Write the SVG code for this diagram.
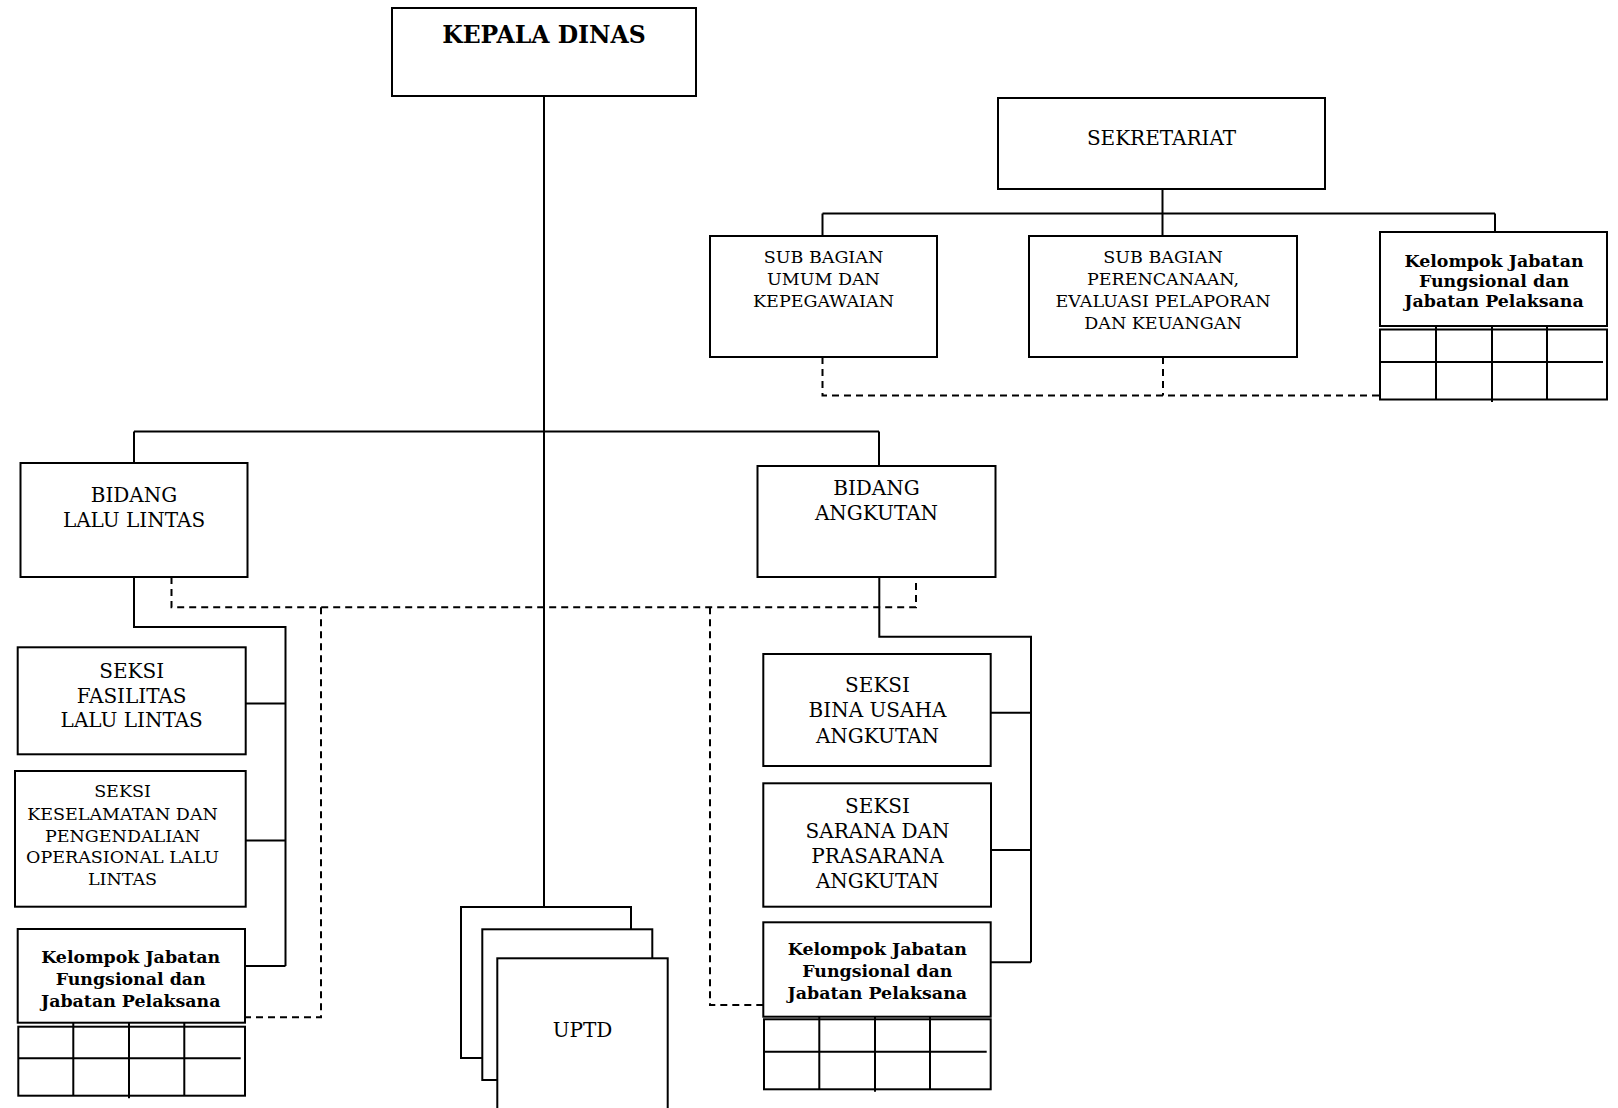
<svg xmlns="http://www.w3.org/2000/svg" width="1618" height="1108" viewBox="0 0 1618 1108">
<style>
  .box { fill: #ffffff; stroke: #000000; stroke-width: 2; }
  .ln { fill: none; stroke: #000000; stroke-width: 2; }
  .dash { fill: none; stroke: #000000; stroke-width: 2; stroke-dasharray: 7 5; }
  .t { font-family: "DejaVu Serif", "Liberation Serif", serif; fill: #000000; text-anchor: middle; }
  .s17 { font-size: 17.5px; }
  .s20 { font-size: 20px; }
  .b { font-family: "DejaVu Serif", "Liberation Serif", serif; font-weight: bold; fill: #000000; text-anchor: middle; font-size: 17.4px; }
  .kd { font-size: 23.5px; }
</style>
<rect x="0" y="0" width="1618" height="1108" fill="#ffffff"/>

<g id="connectors">
  <path class="ln" d="M544 96 V907"/>
  <path class="ln" d="M134 431.5 H879"/>
  <path class="ln" d="M134 431.5 V463"/>
  <path class="ln" d="M879 431.5 V466"/>
  <path class="ln" d="M1162.5 189 V236"/>
  <path class="ln" d="M822.5 213.5 H1495"/>
  <path class="ln" d="M822.5 213.5 V236"/>
  <path class="ln" d="M1495 213.5 V232"/>
  <path class="dash" d="M822.5 357 V395.5 H1380"/>
  <path class="dash" d="M1163 357 V395.5"/>
  <path class="ln" d="M134 577 V627 H285.5 V966"/>
  <path class="ln" d="M245.5 703.5 H285.5"/>
  <path class="ln" d="M245.5 840.5 H285.5"/>
  <path class="ln" d="M245 966 H285.5"/>
  <path class="ln" d="M879.3 577 V636.7 H1031 V962.3"/>
  <path class="ln" d="M990.7 712.7 H1031"/>
  <path class="ln" d="M991 850 H1031"/>
  <path class="ln" d="M990.7 962.3 H1031"/>
  <path class="dash" d="M171.5 577 V607.3 H916 V577"/>
  <path class="dash" d="M321 607.3 V1017.3 H245"/>
  <path class="dash" d="M710 607.3 V1005 H763.3"/>
</g>

<g id="kepala-dinas">
  <rect class="box" x="392" y="8" width="304" height="88"/>
  <text class="b kd" x="544" y="43">KEPALA DINAS</text>
</g>

<g id="sekretariat">
  <rect class="box" x="998" y="98" width="327" height="91"/>
  <text class="t s20" x="1161.5" y="145">SEKRETARIAT</text>
</g>

<g id="subbag-umum">
  <rect class="box" x="710" y="236" width="227" height="121"/>
  <text class="t s17" x="823.5" y="263">SUB BAGIAN</text>
  <text class="t s17" x="823.5" y="285">UMUM DAN</text>
  <text class="t s17" x="823.5" y="307">KEPEGAWAIAN</text>
</g>

<g id="subbag-perencanaan">
  <rect class="box" x="1029" y="236" width="268" height="121"/>
  <text class="t s17" x="1163" y="263">SUB BAGIAN</text>
  <text class="t s17" x="1163" y="285">PERENCANAAN,</text>
  <text class="t s17" x="1163" y="307">EVALUASI PELAPORAN</text>
  <text class="t s17" x="1163" y="328.5">DAN KEUANGAN</text>
</g>

<g id="kelompok-sekretariat">
  <rect class="box" x="1380" y="232" width="227" height="94"/>
  <text class="b" x="1494" y="266.5">Kelompok Jabatan</text>
  <text class="b" x="1494" y="286.5">Fungsional dan</text>
  <text class="b" x="1494" y="307">Jabatan Pelaksana</text>
  <rect class="box" x="1380" y="329.5" width="227" height="70"/>
  <path class="ln" d="M1436 326 V399.5 M1492 326 V402 M1547 326 V399.5 M1380 362 H1603"/>
</g>

<g id="bidang-lalu-lintas">
  <rect class="box" x="20.5" y="463" width="227" height="114"/>
  <text class="t s20" x="134" y="501.5">BIDANG</text>
  <text class="t s20" x="134" y="526.5">LALU LINTAS</text>
</g>

<g id="bidang-angkutan">
  <rect class="box" x="757.5" y="466" width="238" height="111"/>
  <text class="t s20" x="876.5" y="495">BIDANG</text>
  <text class="t s20" x="876.5" y="520">ANGKUTAN</text>
</g>

<g id="seksi-fasilitas">
  <rect class="box" x="17.7" y="647.3" width="228" height="107"/>
  <text class="t s20" x="131.7" y="678.3">SEKSI</text>
  <text class="t s20" x="131.7" y="703.3">FASILITAS</text>
  <text class="t s20" x="131.7" y="727.3">LALU LINTAS</text>
</g>

<g id="seksi-keselamatan">
  <rect class="box" x="15" y="771" width="230.7" height="135.7"/>
  <text class="t s17" x="122.5" y="796.7">SEKSI</text>
  <text class="t s17" x="122.5" y="820">KESELAMATAN DAN</text>
  <text class="t s17" x="122.5" y="841.7">PENGENDALIAN</text>
  <text class="t s17" x="122.5" y="863.3">OPERASIONAL LALU</text>
  <text class="t s17" x="122.5" y="885">LINTAS</text>
</g>

<g id="kelompok-lalu-lintas">
  <rect class="box" x="17.7" y="929" width="227.3" height="93.7"/>
  <text class="b" x="130.7" y="963.3">Kelompok Jabatan</text>
  <text class="b" x="130.7" y="984.5">Fungsional dan</text>
  <text class="b" x="130.7" y="1006.7">Jabatan Pelaksana</text>
  <rect class="box" x="18.3" y="1026.7" width="226.7" height="69"/>
  <path class="ln" d="M73.3 1022.7 V1095.7 M129 1022.7 V1098.3 M184.3 1022.7 V1095.7 M18.3 1058.3 H240.7"/>
</g>

<g id="seksi-bina-usaha">
  <rect class="box" x="763.3" y="654" width="227.4" height="112"/>
  <text class="t s20" x="877.5" y="691.7">SEKSI</text>
  <text class="t s20" x="877.5" y="717.3">BINA USAHA</text>
  <text class="t s20" x="877.5" y="742.7">ANGKUTAN</text>
</g>

<g id="seksi-sarana">
  <rect class="box" x="763.3" y="783.3" width="227.7" height="123.4"/>
  <text class="t s20" x="877.5" y="813.3">SEKSI</text>
  <text class="t s20" x="877.5" y="838.3">SARANA DAN</text>
  <text class="t s20" x="877.5" y="862.7">PRASARANA</text>
  <text class="t s20" x="877.5" y="888.3">ANGKUTAN</text>
</g>

<g id="kelompok-angkutan">
  <rect class="box" x="763.3" y="922.3" width="227.4" height="94.4"/>
  <text class="b" x="877.3" y="955">Kelompok Jabatan</text>
  <text class="b" x="877.3" y="977">Fungsional dan</text>
  <text class="b" x="877.3" y="999.3">Jabatan Pelaksana</text>
  <rect class="box" x="764" y="1019.3" width="226.7" height="70"/>
  <path class="ln" d="M819.3 1016.7 V1089.3 M875 1016.7 V1091.7 M930 1016.7 V1089.3 M764 1051.7 H986.7"/>
</g>

<g id="uptd">
  <rect class="box" x="461" y="907" width="170" height="151"/>
  <rect class="box" x="482.3" y="929.3" width="170" height="150.7"/>
  <rect class="box" x="497.3" y="958.3" width="170.4" height="160"/>
  <text class="t s20" x="582.5" y="1036.7">UPTD</text>
</g>
</svg>
